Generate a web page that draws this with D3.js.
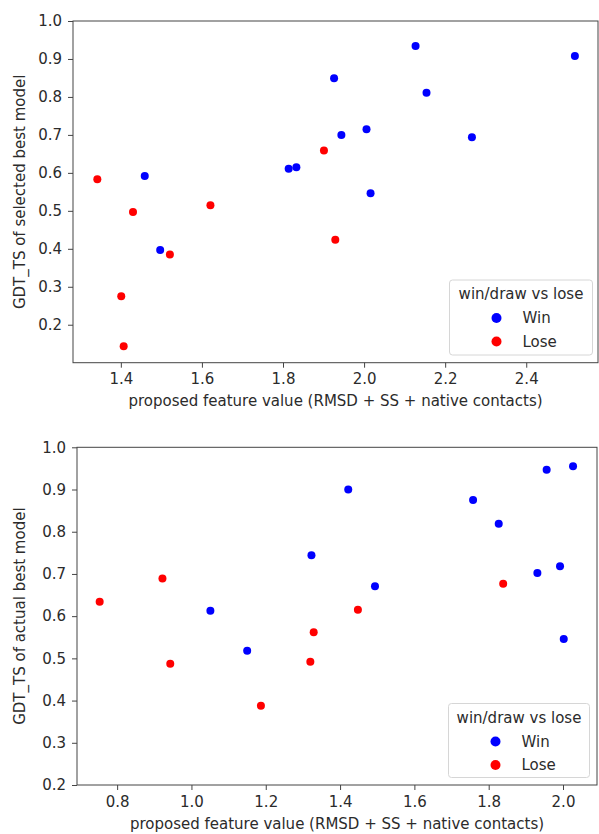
<!DOCTYPE html>
<html>
<head>
<meta charset="utf-8">
<script src="https://cdn.jsdelivr.net/npm/d3@7"></script>
<style>
    body { margin: 0; background: #fff; }
    svg { display: block; font-family: 'DejaVu Sans', sans-serif; }
</style>
</head>
<body>
<div id="chart"></div>
<script>
// Top panel: GDT_TS of selected best model
const selWinX  = [1.459, 1.814, 1.833, 2.127, 2.520, 1.926, 2.154, 1.944, 2.006, 2.266, 2.016, 1.497];
const selWinY  = [0.592, 0.611, 0.615, 0.934, 0.908, 0.849, 0.811, 0.700, 0.715, 0.694, 0.546, 0.397];
const selLoseX = [1.342, 1.901, 1.430, 1.621, 1.521, 1.401, 1.407, 1.929];
const selLoseY = [0.583, 0.659, 0.497, 0.515, 0.385, 0.275, 0.143, 0.424];

// Bottom panel: GDT_TS of actual best model
const actWinX  = [1.051, 1.422, 1.758, 1.827, 1.956, 2.027, 1.323, 1.494, 1.931, 1.992, 1.150, 2.002];
const actWinY  = [0.613, 0.900, 0.875, 0.819, 0.947, 0.955, 0.744, 0.671, 0.702, 0.718, 0.518, 0.546];
const actLoseX = [0.753, 0.922, 1.839, 1.448, 0.943, 1.187, 1.329, 1.320];
const actLoseY = [0.634, 0.689, 0.677, 0.615, 0.487, 0.388, 0.562, 0.492];

const topXTicks = [1.4, 1.6, 1.8, 2.0, 2.2, 2.4];
const topYTicks = [0.2, 0.3, 0.4, 0.5, 0.6, 0.7, 0.8, 0.9, 1.0];
const botXTicks = [0.8, 1.0, 1.2, 1.4, 1.6, 1.8, 2.0];
const botYTicks = [0.2, 0.3, 0.4, 0.5, 0.6, 0.7, 0.8, 0.9, 1.0];

const legendTitle = 'win/draw vs lose';
const legendLabels = ['Win', 'Lose'];
const xLabel = 'proposed feature value (RMSD + SS + native contacts)';

const width = 599;
const height = 834;
const colors = { Win: '#0000ff', Lose: '#ff0000' };
const textColor = '#2b2b2b';
const fontSize = 15;

const svg = d3.select('#chart').append('svg')
    .attr('width', width)
    .attr('height', height);

// Draw one scatter panel
function drawPanel(cfg) {
    const x = d3.scaleLinear().domain(cfg.xDomain).range([cfg.left, cfg.right]);
    const y = d3.scaleLinear().domain(cfg.yDomain).range([cfg.bottom, cfg.top]);
    const g = svg.append('g');

    // Axes
    const xAxis = g.append('g')
        .attr('transform', `translate(0,${cfg.bottom})`)
        .call(d3.axisBottom(x).tickValues(cfg.xTicks).tickFormat(d3.format('.1f')).tickSize(5).tickPadding(6));
    const yAxis = g.append('g')
        .attr('transform', `translate(${cfg.left},0)`)
        .call(d3.axisLeft(y).tickValues(cfg.yTicks).tickFormat(d3.format('.1f')).tickSize(5).tickPadding(6));
    [xAxis, yAxis].forEach(a => {
        a.select('.domain').remove();
        a.selectAll('line').attr('stroke', '#444');
        a.selectAll('text')
            .attr('fill', textColor)
            .style('font-size', fontSize + 'px')
            .style('font-family', "'DejaVu Sans', sans-serif");
    });

    // Frame
    g.append('rect')
        .attr('x', cfg.left)
        .attr('y', cfg.top)
        .attr('width', cfg.right - cfg.left)
        .attr('height', cfg.bottom - cfg.top)
        .attr('fill', 'none')
        .attr('stroke', '#444')
        .attr('stroke-width', 1);

    // Points
    const points = cfg.winX.map((v, i) => ({ x: v, y: cfg.winY[i], k: 'Win' }))
        .concat(cfg.loseX.map((v, i) => ({ x: v, y: cfg.loseY[i], k: 'Lose' })));
    g.selectAll('circle.pt')
        .data(points)
        .enter().append('circle')
        .attr('class', 'pt')
        .attr('cx', d => x(d.x))
        .attr('cy', d => y(d.y))
        .attr('r', 4)
        .attr('fill', d => colors[d.k]);

    // Axis labels
    g.append('text')
        .attr('x', (cfg.left + cfg.right) / 2)
        .attr('y', cfg.xLabelY)
        .attr('text-anchor', 'middle')
        .attr('fill', textColor)
        .style('font-size', fontSize + 'px')
        .text(xLabel);
    g.append('text')
        .attr('transform', `translate(${cfg.yLabelX},${(cfg.top + cfg.bottom) / 2}) rotate(-90)`)
        .attr('text-anchor', 'middle')
        .attr('fill', textColor)
        .style('font-size', fontSize + 'px')
        .text(cfg.yLabel);

    // Legend
    const lg = g.append('g').attr('transform', `translate(${cfg.legend.x},${cfg.legend.y})`);
    lg.append('rect')
        .attr('width', cfg.legend.w)
        .attr('height', cfg.legend.h)
        .attr('rx', 3)
        .attr('fill', 'rgba(255,255,255,0.8)')
        .attr('stroke', '#d6d6d6');
    lg.append('text')
        .attr('x', cfg.legend.w / 2)
        .attr('y', 19)
        .attr('text-anchor', 'middle')
        .attr('fill', textColor)
        .style('font-size', fontSize + 'px')
        .text(legendTitle);
    const item = lg.selectAll('g.item')
        .data(legendLabels)
        .enter().append('g')
        .attr('class', 'item')
        .attr('transform', (d, i) => `translate(0,${38 + i * 23.5})`);
    item.append('circle')
        .attr('cx', 47)
        .attr('r', 5)
        .attr('fill', d => colors[d]);
    item.append('text')
        .attr('x', 73)
        .attr('dy', '0.36em')
        .attr('fill', textColor)
        .style('font-size', fontSize + 'px')
        .text(d => d);
}

drawPanel({
    left: 73, right: 598, top: 21, bottom: 362.7,
    xDomain: [1.282, 2.577], yDomain: [0.1, 1.0],
    xTicks: topXTicks, yTicks: topYTicks,
    winX: selWinX, winY: selWinY, loseX: selLoseX, loseY: selLoseY,
    yLabel: 'GDT_TS of selected best model',
    xLabelY: 406, yLabelX: 25,
    legend: { x: 449.5, y: 280, w: 143, h: 75 }
});

drawPanel({
    left: 77, right: 597, top: 447.3, bottom: 785,
    xDomain: [0.692, 2.0915], yDomain: [0.2, 1.0],
    xTicks: botXTicks, yTicks: botYTicks,
    winX: actWinX, winY: actWinY, loseX: actLoseX, loseY: actLoseY,
    yLabel: 'GDT_TS of actual best model',
    xLabelY: 829, yLabelX: 25,
    legend: { x: 448.5, y: 703.5, w: 141, h: 74 }
});
</script>
</body>
</html>
